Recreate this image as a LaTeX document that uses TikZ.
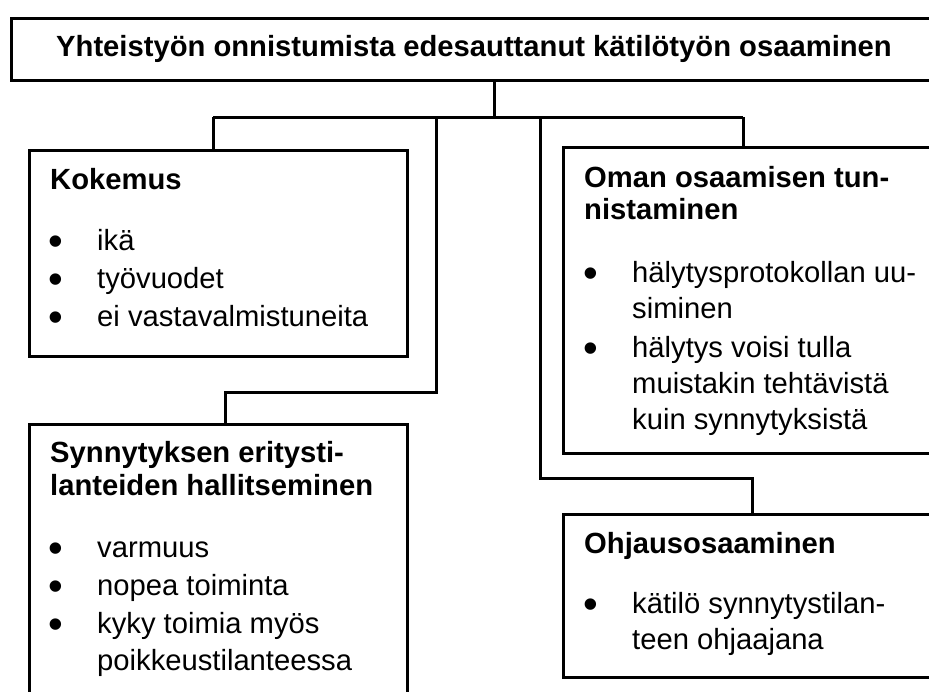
\documentclass[tikz,border=0pt]{standalone}
\usepackage{fontspec}
\setmainfont{Liberation Sans}
\begin{document}
\begin{tikzpicture}[x=1pt,y=-1pt,
  box/.style={draw, line width=3pt, inner sep=0pt, anchor=north west},
  conn/.style={line width=3pt},
  txt/.style={anchor=base west, inner sep=0pt, font=\fontsize{29.2}{35}\selectfont},
  head/.style={anchor=base west, inner sep=0pt, font=\fontsize{29.2}{35}\selectfont\bfseries},
  bul/.style={anchor=base, inner sep=0pt, yshift=-5pt, font=\fontsize{42}{42}\selectfont}]
\path[use as bounding box] (0,0) rectangle (929,691);
% boxes
\node[box, minimum width=925pt, minimum height=62pt] (top) at (10,17) {};
\node[box, minimum width=378pt, minimum height=206pt] (kok) at (28,149) {};
\node[box, minimum width=380pt, minimum height=306pt] (oman) at (562,146) {};
\node[box, minimum width=378pt, minimum height=290pt] (syn) at (28,423) {};
\node[box, minimum width=380pt, minimum height=163pt] (ohj) at (562,513) {};
% connector junctions
\coordinate (jc) at (494,117);
\coordinate (jl) at (213,117);
\coordinate (jr) at (743,117);
\coordinate (va) at (436,117);
\coordinate (vb) at (540,117);
\coordinate (ka) at (436,392);
\coordinate (kb) at (225,392);
\coordinate (ma) at (540,478);
\coordinate (mb) at (752,478);
\draw[conn] (top.south -| jc) -- (jc);
\draw[conn] (jl) -- (jr);
\draw[conn] (jl) -- (jl |- kok.north);
\draw[conn] (jr) -- (jr |- oman.north);
\draw[conn] (va) -- (ka) -- (kb) -- (kb |- syn.north);
\draw[conn] (vb) -- (ma) -- (mb) -- (mb |- ohj.north);
% title
\node[head] (title) at (56,56) {Yhteistyön onnistumista edesauttanut kätilötyön osaaminen};
% Kokemus
\node[head] (kh) at (50,189) {Kokemus};
\node[bul] (kb1) at (56,250) {•};
\node[txt] (k1) at (97,250) {ikä};
\node[bul] (kb2) at (56,288) {•};
\node[txt] (k2) at (97,288) {työvuodet};
\node[bul] (kb3) at (56,326) {•};
\node[txt] (k3) at (97,326) {ei vastavalmistuneita};
% Oman
\node[head] (oh1) at (584,187) {Oman osaamisen tun-};
\node[head] (oh2) at (584,219) {nistaminen};
\node[bul] (ob1) at (591,282) {•};
\node[txt] (o1) at (632,282) {hälytysprotokollan uu-};
\node[txt] (o2) at (632,318) {siminen};
\node[bul] (ob2) at (591,357) {•};
\node[txt] (o3) at (632,357) {hälytys voisi tulla};
\node[txt] (o4) at (632,393) {muistakin tehtävistä};
\node[txt] (o5) at (632,429) {kuin synnytyksistä};
% Synnytyksen
\node[head] (sh1) at (50,462) {Synnytyksen eritysti-};
\node[head] (sh2) at (50,495) {lanteiden hallitseminen};
\node[bul] (sb1) at (56,557) {•};
\node[txt] (s1) at (97,557) {varmuus};
\node[bul] (sb2) at (56,595) {•};
\node[txt] (s2) at (97,595) {nopea toiminta};
\node[bul] (sb3) at (56,633) {•};
\node[txt] (s3) at (97,633) {kyky toimia myös};
\node[txt] (s4) at (97,670) {poikkeustilanteessa};
% Ohjaus
\node[head] (hh) at (584,553) {Ohjausosaaminen};
\node[bul] (hb1) at (591,613) {•};
\node[txt] (h1) at (632,613) {kätilö synnytystilan-};
\node[txt] (h2) at (632,649) {teen ohjaajana};
\end{tikzpicture}
\end{document}
